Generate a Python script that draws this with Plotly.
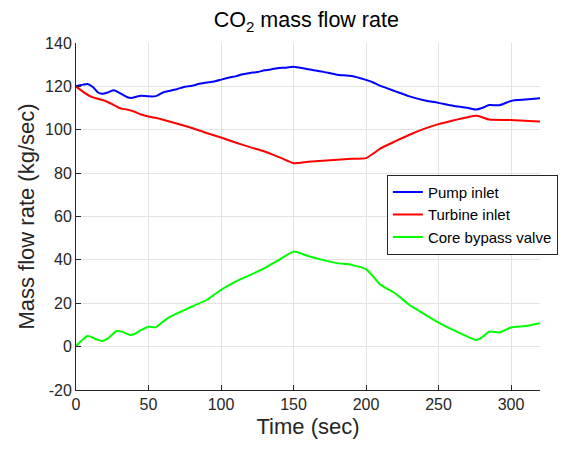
import plotly.graph_objects as go

t_pump = [0, 3, 5, 8, 12, 15, 18, 22, 26, 30, 35, 38, 42, 45, 50, 55, 60, 65, 70, 75, 80, 85, 90, 95, 100, 105, 110, 115, 120, 125, 130, 135, 140, 145, 150,
          160, 170, 180, 190, 200, 205, 210, 220, 230, 240, 250, 260, 270, 276, 280, 285, 292, 300, 310, 320]
pump = [120, 120.5, 120.8, 121.1, 119.5, 117.3, 116.6, 117.2, 118.2, 117.0, 115.1, 114.6, 115.3, 115.7, 115.4, 115.5, 117.2, 118.0, 118.8, 119.8, 120.3, 121.2, 121.8, 122.2, 123.1, 124.0, 124.6, 125.6, 126.2, 126.6, 127.4, 127.9, 128.5, 128.6, 129.1,
        127.9, 126.8, 125.4, 124.8, 123.0, 121.8, 120.2, 117.8, 115.4, 113.6, 112.4, 111.1, 110.1, 109.3, 110.0, 111.4, 111.3, 113.3, 113.9, 114.5]

t_turb = [0, 5, 10, 15, 20, 25, 30, 35, 40, 45, 50, 55, 60, 70, 80, 90, 100, 110, 120, 130, 140, 150,
          160, 175, 190, 200, 205, 210, 220, 230, 240, 250, 260, 270, 276, 280, 285, 300, 320]
turb = [120, 117.5, 115.4, 114.3, 113.4, 111.8, 110.0, 109.3, 108.4, 107.0, 106.1, 105.5, 104.6, 102.8, 100.8, 98.5, 96.4, 94.1, 92.0, 90.0, 87.4, 84.6,
        85.2, 85.9, 86.6, 86.9, 89.0, 91.4, 94.6, 97.7, 100.4, 102.6, 104.3, 105.8, 106.4, 105.8, 104.7, 104.5, 103.8]

t_core = [0, 3, 8, 10, 15, 18, 22, 28, 32, 37, 40, 45, 50, 55, 60, 65, 70, 80, 90, 100, 110, 120, 130, 140, 150,
          160, 170, 180, 190, 200, 205, 210, 220, 230, 240, 250, 260, 270, 276, 280, 285, 292, 300, 310, 320]
core = [0.3, 2.3, 4.9, 4.6, 3.1, 2.6, 3.8, 7.2, 6.8, 5.4, 5.7, 7.7, 9.2, 8.9, 11.5, 13.8, 15.4, 18.5, 21.5, 26.2, 30.0, 33.0, 36.2, 40.0, 43.8,
        41.8, 40.0, 38.5, 37.7, 35.7, 32.3, 28.5, 24.6, 19.2, 15.1, 11.1, 7.7, 4.6, 3.1, 4.3, 6.9, 6.5, 8.8, 9.5, 10.8]

x_ticks = [0, 50, 100, 150, 200, 250, 300]
y_ticks = [-20, 0, 20, 40, 60, 80, 100, 120, 140]
y_tick_labels = ["-20", "0", "20", "40", "60", "80", "100", "120", "140"]

fig = go.Figure()
fig.add_trace(go.Scatter(x=t_pump, y=pump, mode="lines", name="Pump inlet", legendgroup="a",
                         line=dict(color="#0000FF", width=2, shape="spline", smoothing=0.5)))
fig.add_trace(go.Scatter(x=t_turb, y=turb, mode="lines", name="Turbine inlet", legendgroup="b",
                         line=dict(color="#FF0000", width=2, shape="spline", smoothing=0.5)))
fig.add_trace(go.Scatter(x=t_core, y=core, mode="lines", name="Core bypass valve", legendgroup="c",
                         line=dict(color="#00FF00", width=2, shape="spline", smoothing=0.5)))

axis_common = dict(showgrid=True, gridcolor="#E3E3E3", gridwidth=1, zeroline=False, automargin=False,
                   showline=True, linecolor="#262626", linewidth=1, ticks="inside",
                   ticklen=5, tickcolor="#262626", tickfont=dict(size=16, color="#262626"))

fig.update_layout(
    width=562, height=452,
    margin=dict(l=76, r=22, t=43, b=62, autoexpand=False),
    paper_bgcolor="white", plot_bgcolor="white",
    font=dict(family="Liberation Sans, Arial, sans-serif", color="#262626"),
    title=dict(text="CO<sub>2</sub> mass flow rate", x=0.545, xanchor="center", y=0.956, yanchor="middle",
               font=dict(size=21.5, color="#000000")),
    xaxis=dict(range=[0, 320], tickvals=x_ticks,
               title=dict(text="Time (sec)", font=dict(size=22, color="#262626"), standoff=6), **axis_common),
    yaxis=dict(range=[-20, 140], tickvals=y_ticks, ticktext=y_tick_labels,
               title=dict(text="Mass flow rate (kg/sec)", font=dict(size=22, color="#262626"), standoff=4), **axis_common),
    legend=dict(x=0.67, y=0.62, xanchor="left", yanchor="top", bgcolor="white",
                bordercolor="#262626", borderwidth=1, font=dict(size=15, color="#000000"),
                tracegroupgap=0, itemwidth=30),
    showlegend=True,
)

fig.write_html("out.html", config={"displayModeBar": False},
               post_script="document.body.style.margin='0';document.body.style.overflow='hidden';")
